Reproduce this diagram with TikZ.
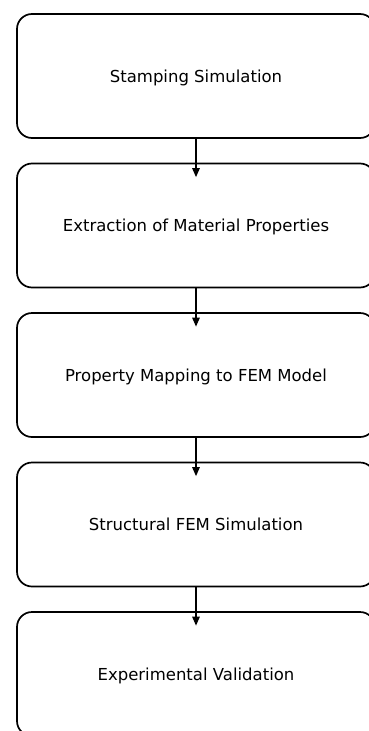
\documentclass[tikz,border=0pt]{standalone}
\usepackage{fontspec}
\setmainfont{DejaVu Sans}
\usetikzlibrary{positioning,arrows.meta}

\begin{document}
\begin{tikzpicture}[x=1pt,y=1pt,
    stagebox/.style={draw=black,line width=1.7pt,rounded corners=15pt,
      minimum width=358pt,minimum height=124pt,text depth=0pt,
      font=\fontsize{16.5}{20}\selectfont},
    flowarrow/.style={-{Triangle[length=9pt,width=7.5pt]},line width=1.4pt,shorten >=-14.5pt}]
  \useasboundingbox (0,0) rectangle (369,-731);

  % Process stages, top to bottom
  \node[stagebox] (stamp) at (196,-76) {Stamping Simulation};
  \node[stagebox,below=23.8pt of stamp] (extract) {Extraction of Material Properties};
  \node[stagebox,below=23.8pt of extract] (mapping) {Property Mapping to FEM Model};
  \node[stagebox,below=23.8pt of mapping] (structfem) {Structural FEM Simulation};
  \node[stagebox,below=23.8pt of structfem] (valid) {Experimental Validation};

  % Arrows between stages
  \draw[flowarrow] (stamp) -- (extract);
  \draw[flowarrow] (extract) -- (mapping);
  \draw[flowarrow] (mapping) -- (structfem);
  \draw[flowarrow] (structfem) -- (valid);
\end{tikzpicture}
\end{document}
